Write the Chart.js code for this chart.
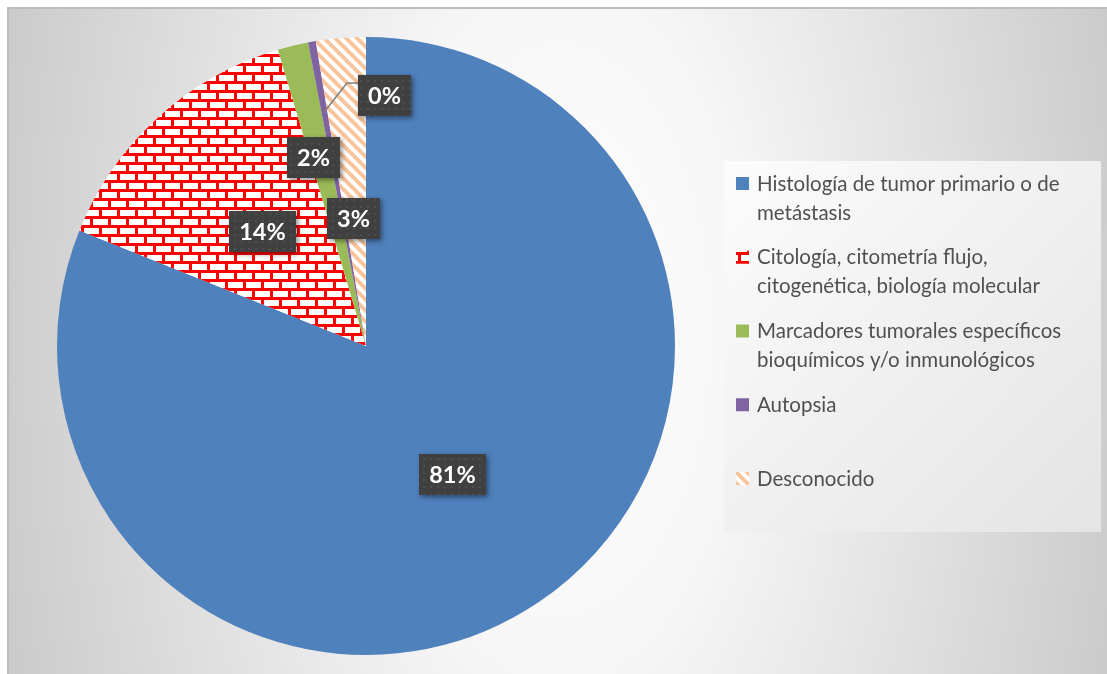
<!DOCTYPE html>
<html><head><meta charset="utf-8">
<script src="https://cdn.jsdelivr.net/npm/chart.js@4"></script>
<style>html,body{margin:0;padding:0;background:#fff;overflow:hidden}canvas{display:block}</style>
</head><body>
<canvas id="c" width="1107" height="674"></canvas>
<script>
// ---- data ----
const categories = [
  "Histología de tumor primario o de metástasis",
  "Citología, citometría flujo, citogenética, biología molecular",
  "Marcadores tumorales específicos bioquímicos y/o inmunológicos",
  "Autopsia",
  "Desconocido"
];
const legendLines = [
  ["Histología de tumor primario o de", "metástasis"],
  ["Citología, citometría flujo,", "citogenética, biología molecular"],
  ["Marcadores tumorales específicos", "bioquímicos y/o inmunológicos"],
  ["Autopsia"],
  ["Desconocido"]
];
const values = [81.1, 14.3, 1.6, 0.4, 2.6];

// ---- styles ----
const W = 1107, H = 674;
const canvas = document.getElementById('c');
const ctx0 = canvas.getContext('2d');

function brickPattern() {
  const c = document.createElement('canvas'); c.width = 18; c.height = 18;
  const x = c.getContext('2d');
  x.fillStyle = '#ffffff'; x.fillRect(0, 0, 18, 18);
  x.fillStyle = '#ff0000';
  x.fillRect(0, 0, 18, 3); x.fillRect(0, 0, 3, 9);
  x.fillRect(0, 9, 18, 3); x.fillRect(9, 9, 3, 9);
  return ctx0.createPattern(c, 'repeat');
}
function stripePattern() {
  const c = document.createElement('canvas'); c.width = 11; c.height = 11;
  const x = c.getContext('2d');
  x.fillStyle = '#ffffff'; x.fillRect(0, 0, 11, 11);
  x.strokeStyle = '#f8c49c'; x.lineWidth = 4;
  for (const o of [-11, 0, 11]) { x.beginPath(); x.moveTo(o - 1, -1); x.lineTo(o + 12, 12); x.stroke(); }
  return ctx0.createPattern(c, 'repeat');
}
function dotPattern() {
  const c = document.createElement('canvas'); c.width = 7; c.height = 7;
  const x = c.getContext('2d');
  x.fillStyle = '#404040'; x.fillRect(0, 0, 7, 7);
  x.fillStyle = '#4e4e4e'; x.fillRect(3, 3, 2, 2);
  return ctx0.createPattern(c, 'repeat');
}
const fills = ['#4f81bd', brickPattern(), '#9bbb59', '#8064a2', stripePattern()];
const dots = dotPattern();

// label placement (radius fraction, angle offset in degrees from slice middle)
const labelPlace = [
  { r: 0.50, da: 0 },
  { r: 0.50, da: 0 },
  { r: 0.632, da: -2 },
  { r: 0.814, da: 14.2, leader: 0.77 },
  { r: 0.416, da: -0.7 }
];

const bgPlugin = {
  id: 'bg',
  beforeDraw(chart) {
    const ctx = chart.ctx;
    ctx.save();
    ctx.fillStyle = '#ffffff'; ctx.fillRect(0, 0, W, H);
    ctx.save();
    ctx.beginPath(); ctx.rect(7, 7, W - 7, H - 7); ctx.clip();
    ctx.translate(560, 330); ctx.scale(1, 1.9);
    const g = ctx.createRadialGradient(0, 0, 0, 0, 0, 620);
    g.addColorStop(0, '#ffffff'); g.addColorStop(0.3, '#f6f6f6'); g.addColorStop(1, '#c6c6c6');
    ctx.fillStyle = g; ctx.fillRect(-700, -250, 1400, 500);
    ctx.restore();
    ctx.fillStyle = '#bdbdbd';
    ctx.fillRect(7, 7, W - 7, 2); ctx.fillRect(7, 7, 2, H - 7);
    // legend box
    const lg = ctx.createLinearGradient(724, 161, 1101, 532);
    lg.addColorStop(0, '#fcfcfc'); lg.addColorStop(1, '#e4e4e4');
    ctx.fillStyle = lg; ctx.fillRect(724, 161, 377, 371);
    ctx.restore();
  },
  afterDraw(chart) {
    const ctx = chart.ctx;
    ctx.save();
    ctx.font = '20.5px Lato';
    ctx.textBaseline = 'middle';
    legendLines.forEach((lines, i) => {
      const y = 184 + i * 73.75;
      ctx.fillStyle = fills[i];
      ctx.fillRect(736, y - 7, 13, 13);
      ctx.fillStyle = '#505050';
      lines.forEach((t, j) => ctx.fillText(t, 757, y + j * 29));
    });
    ctx.restore();
  }
};

const labelPlugin = {
  id: 'lbls',
  afterDatasetsDraw(chart) {
    const ctx = chart.ctx;
    const meta = chart.getDatasetMeta(0);
    const total = values.reduce((a, b) => a + b, 0);
    meta.data.forEach((arc, i) => {
      const p = arc.getProps(['x', 'y', 'startAngle', 'endAngle', 'outerRadius'], true);
      const pl = labelPlace[i];
      const mid0 = (p.startAngle + p.endAngle) / 2;
      const mid = mid0 + pl.da * Math.PI / 180;
      const R = p.outerRadius;
      const cx = p.x + Math.cos(mid) * R * pl.r;
      const cy = p.y + Math.sin(mid) * R * pl.r;
      const txt = Math.round(values[i] / total * 100) + '%';
      ctx.save();
      ctx.font = 'bold 23.5px Lato';
      const tw = ctx.measureText(txt).width;
      const w = Math.round(tw + 20), h = 41;
      const bx = Math.round(cx - w / 2), by = Math.round(cy - h / 2);
      if (pl.leader) {
        const sx = p.x + Math.cos(mid0) * R * pl.leader;
        const sy = p.y + Math.sin(mid0) * R * pl.leader;
        const ex = bx, ey = by + 8;
        ctx.strokeStyle = '#7f7f7f'; ctx.lineWidth = 1.5;
        ctx.beginPath(); ctx.moveTo(sx, sy); ctx.lineTo(ex - 11, ey); ctx.lineTo(ex, ey); ctx.stroke();
      }
      ctx.shadowColor = 'rgba(0,0,0,0.45)'; ctx.shadowBlur = 5; ctx.shadowOffsetX = 2; ctx.shadowOffsetY = 2;
      ctx.fillStyle = '#404040'; ctx.fillRect(bx, by, w, h);
      ctx.shadowColor = 'transparent';
      ctx.fillStyle = dots; ctx.fillRect(bx, by, w, h);
      ctx.fillStyle = '#ffffff'; ctx.textAlign = 'center'; ctx.textBaseline = 'middle';
      ctx.fillText(txt, bx + w / 2, by + h / 2 + 1);
      ctx.restore();
    });
  }
};

new Chart(canvas, {
  type: 'pie',
  data: {
    labels: categories,
    datasets: [{ data: values, backgroundColor: fills, borderWidth: 0 }]
  },
  options: {
    responsive: false,
    animation: false,
    layout: { padding: { left: 57, right: 432, top: 37, bottom: 19 } },
    plugins: { legend: { display: false }, tooltip: { enabled: false } }
  },
  plugins: [bgPlugin, labelPlugin]
});
</script>
</body></html>
